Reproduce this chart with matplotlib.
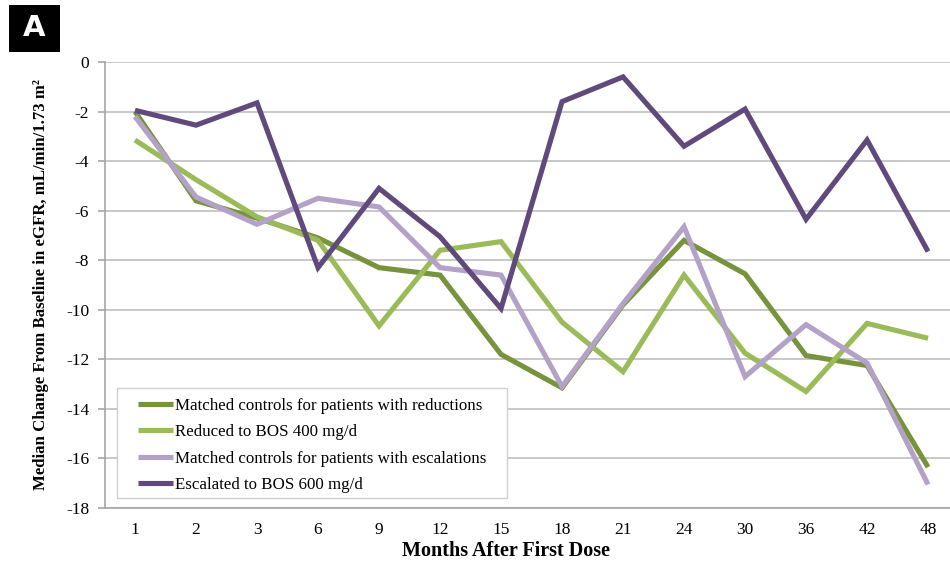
import matplotlib
matplotlib.use("Agg")
import matplotlib.pyplot as plt
from matplotlib.patches import Rectangle
import numpy as np

months = ["1", "2", "3", "6", "9", "12", "15", "18", "21", "24", "30", "36", "42", "48"]

matched_reductions = [-2.0, -5.6, -6.3, -7.1, -8.3, -8.6, -11.8, -13.15, -9.8, -7.2, -8.55, -11.85, -12.25, -16.35]
reduced_400 = [-3.15, -4.75, -6.25, -7.2, -10.65, -7.6, -7.25, -10.5, -12.5, -8.6, -11.75, -13.3, -10.55, -11.15]
matched_escalations = [-2.2, -5.45, -6.55, -5.5, -5.85, -8.3, -8.6, -13.1, -9.75, -6.65, -12.7, -10.6, -12.15, -17.05]
escalated_600 = [-1.95, -2.55, -1.65, -8.3, -5.1, -7.05, -9.95, -1.6, -0.6, -3.4, -1.9, -6.35, -3.15, -7.65]

series = [
    ("Matched controls for patients with reductions", matched_reductions, "#77933C"),
    ("Reduced to BOS 400 mg/d", reduced_400, "#9BBB59"),
    ("Matched controls for patients with escalations", matched_escalations, "#B3A2C7"),
    ("Escalated to BOS 600 mg/d", escalated_600, "#604A7B"),
]

serif = ["Liberation Serif", "DejaVu Serif"]

W, H = 950, 563
fig = plt.figure(figsize=(W / 100, H / 100), dpi=100)
ax = fig.add_axes([0.110, 0.0977, 0.899, 0.7922])

x = np.arange(len(months))
for label, vals, color in series:
    ax.plot(x, vals, color=color, lw=3.7, label=label, solid_joinstyle="miter",
            solid_capstyle="butt", zorder=3)

ax.set_xlim(-0.5, len(months) - 0.5)
ax.set_ylim(-18, 0)
ax.set_yticks(np.arange(-18, 1, 2))
ax.set_yticklabels([str(v) for v in range(-18, 1, 2)], family=serif, fontsize=12.5)
ax.set_xticks(x)
ax.set_xticklabels(months, family=serif, fontsize=12.5)
ax.tick_params(axis="y", length=5, color="#A6A6A6", width=1.2, pad=6)
ax.tick_params(axis="x", length=0, pad=10)

ax.grid(axis="y", color="#BFBFBF", lw=1.2, zorder=0)
for side in ["top", "right"]:
    ax.spines[side].set_visible(False)
for side in ["left", "bottom"]:
    ax.spines[side].set_color("#A6A6A6")
    ax.spines[side].set_linewidth(1.2)

ax.set_xlabel("Months After First Dose", family=serif, fontweight="bold",
              fontsize=14.5, labelpad=1)
ax.xaxis.set_label_coords(0.470, -0.075)
ax.set_ylabel("Median Change From Baseline in eGFR, mL/min/1.73 m\u00b2", family=serif,
              fontweight="bold", fontsize=12.1, labelpad=12)

# legend box with wider side margins than rows
ax.add_patch(Rectangle((117 / W, 1 - 498 / H), 390 / W, 110 / H, transform=fig.transFigure,
                       facecolor="white", edgecolor="#D0D0D0", lw=1.0, zorder=4, clip_on=False))
leg = ax.legend(loc="center left", bbox_to_anchor=(137.5 / W, 1 - 445.5 / H),
                bbox_transform=fig.transFigure, prop={"family": serif, "size": 12.2},
                frameon=False, handlelength=2.1, handletextpad=0.1, labelspacing=0.62,
                borderpad=0.0, borderaxespad=0.0)
leg.set_zorder(5)

# panel letter badge
fig.patches.append(Rectangle((9 / W, 1 - 52 / H), 51 / W, 47 / H,
                             transform=fig.transFigure, facecolor="black", edgecolor="none"))
fig.text(34.5 / W, 1 - 28.5 / H, "A", ha="center", va="center", fontsize=21,
         fontweight="bold", color="white", family="DejaVu Sans")

fig.savefig("out.png", dpi=100)
